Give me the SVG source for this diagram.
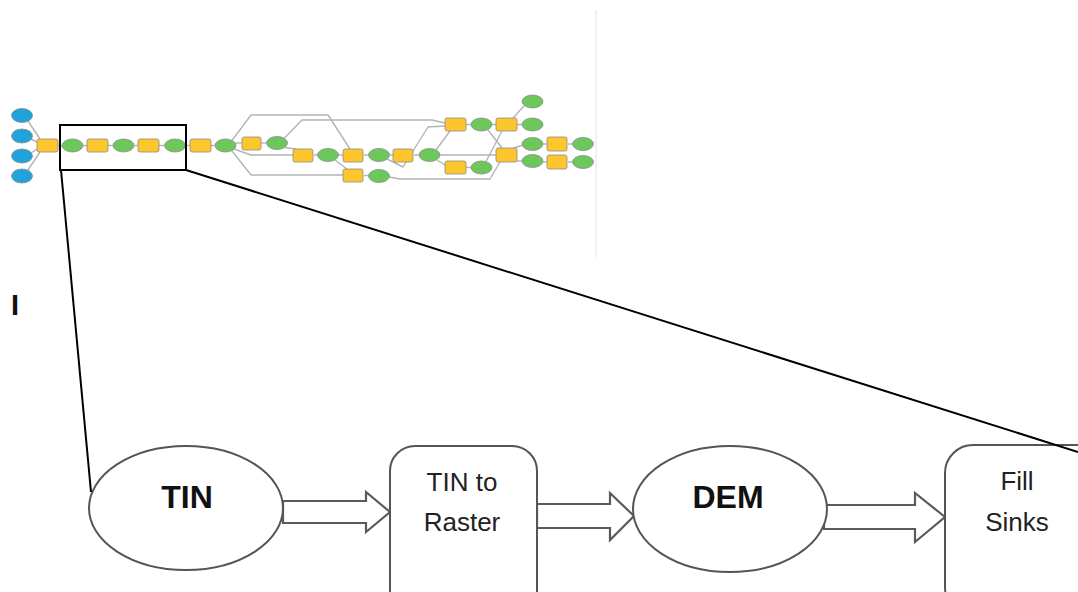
<svg xmlns="http://www.w3.org/2000/svg" width="1078" height="592" viewBox="0 0 1078 592">
  <style>
    .blue { fill: #1fa3da; stroke: #8a8a8a; stroke-width: 0.8; }
    .green { fill: #6cc85a; stroke: #8a8a8a; stroke-width: 0.8; }
    .yellow { fill: #fdc62c; stroke: #8a8a8a; stroke-width: 0.8; }
    .wire { fill: none; stroke: #b4b4b4; stroke-width: 1.4; stroke-linejoin: round; }
    .zoomline { fill: none; stroke: #000; stroke-width: 2; }
    .bignode { fill: #fff; stroke: #555; stroke-width: 2; }
    .blockarrow { fill: #fff; stroke: #5a5a5a; stroke-width: 2.2; stroke-linejoin: miter; }
    .title { font-family: "Liberation Sans", Arial, sans-serif; font-weight: bold; font-size: 32px; fill: #111; text-anchor: middle; }
    .label { font-family: "Liberation Sans", Arial, sans-serif; font-size: 26px; fill: #222; text-anchor: middle; }
  </style>

  <rect width="1078" height="592" fill="#fff"/>

  <!-- thin frame edge of the model panel -->
  <line x1="596" y1="10" x2="596" y2="257" stroke="#e2e2e2" stroke-width="1"/>

  <!-- model overview: connectors -->
  <g id="model-connectors">
    <polyline class="wire" points="28,121 40,139"/>
    <polyline class="wire" points="31,139 37,142"/>
    <polyline class="wire" points="31,153 37,149"/>
    <polyline class="wire" points="28,170 40,152"/>
    <polyline class="wire" points="58,145.5 62,145.5"/>
    <polyline class="wire" points="83,145.5 87,145.5"/>
    <polyline class="wire" points="108,145.5 113,145.5"/>
    <polyline class="wire" points="134,145.5 138,145.5"/>
    <polyline class="wire" points="159,145.5 164.5,145.5"/>
    <polyline class="wire" points="185.5,145.5 190,145.5"/>
    <polyline class="wire" points="211,145.5 215,145.5"/>
    <polyline class="wire" points="235,143 242,143"/>
    <polyline class="wire" points="232,140.5 251,115 328,115 350,149"/>
    <polyline class="wire" points="234,149 251,155 293,155"/>
    <polyline class="wire" points="232,151 251,175 343,175"/>
    <polyline class="wire" points="261,143 266.5,143"/>
    <polyline class="wire" points="285,147.5 296,149"/>
    <polyline class="wire" points="284,138.5 302,120 432,120 445,123"/>
    <polyline class="wire" points="314,155 317.5,155"/>
    <polyline class="wire" points="338.5,155 343,155"/>
    <polyline class="wire" points="335,160 347,169"/>
    <polyline class="wire" points="364,155 368.5,155"/>
    <polyline class="wire" points="389.5,155 393,155"/>
    <polyline class="wire" points="387,159 403,167 428,127 445,126"/>
    <polyline class="wire" points="364,175.5 368.5,175.5"/>
    <polyline class="wire" points="389,177 400,179 490,179 500,162"/>
    <polyline class="wire" points="414,155 419,155"/>
    <polyline class="wire" points="436,150 450,131"/>
    <polyline class="wire" points="440,155 496,155"/>
    <polyline class="wire" points="437,160 445,165"/>
    <polyline class="wire" points="466,124.5 471,124.5"/>
    <polyline class="wire" points="492,124.5 496,124.5"/>
    <polyline class="wire" points="488,130 502,148"/>
    <polyline class="wire" points="513,118 524,106"/>
    <polyline class="wire" points="517,124.5 522,124.5"/>
    <polyline class="wire" points="466,167.5 471,167.5"/>
    <polyline class="wire" points="486,161.5 502,131"/>
    <polyline class="wire" points="514,148 523,145"/>
    <polyline class="wire" points="514,161 523,161"/>
    <polyline class="wire" points="543,144 547,144"/>
    <polyline class="wire" points="568,144 572.5,144"/>
    <polyline class="wire" points="543,162 547,162"/>
    <polyline class="wire" points="568,162 572.5,162"/>
  </g>

  <!-- model overview: inputs -->
  <g id="model-inputs">
    <ellipse class="blue" cx="22" cy="115.5" rx="10.5" ry="7"/>
    <ellipse class="blue" cx="22" cy="136" rx="10.5" ry="7"/>
    <ellipse class="blue" cx="22" cy="156" rx="10.5" ry="7"/>
    <ellipse class="blue" cx="22" cy="176" rx="10.5" ry="7"/>
  </g>

  <!-- model overview: tools -->
  <g id="model-tools">
    <rect class="yellow" x="37" y="139" width="21" height="13" rx="2"/>
    <rect class="yellow" x="87" y="139" width="21" height="13" rx="2"/>
    <rect class="yellow" x="138" y="139" width="21" height="13" rx="2"/>
    <rect class="yellow" x="190" y="139" width="21" height="13" rx="2"/>
    <rect class="yellow" x="242" y="137" width="19" height="13" rx="2"/>
    <rect class="yellow" x="293" y="149" width="20" height="13" rx="2"/>
    <rect class="yellow" x="343" y="149" width="20" height="13" rx="2"/>
    <rect class="yellow" x="343" y="169" width="20" height="13" rx="2"/>
    <rect class="yellow" x="393" y="149" width="20" height="13" rx="2"/>
    <rect class="yellow" x="445" y="118" width="21" height="13" rx="2"/>
    <rect class="yellow" x="496" y="118" width="21" height="13" rx="2"/>
    <rect class="yellow" x="445" y="161" width="21" height="13" rx="2"/>
    <rect class="yellow" x="496" y="148" width="21" height="14" rx="2"/>
    <rect class="yellow" x="547" y="137" width="20" height="14" rx="2"/>
    <rect class="yellow" x="547" y="155" width="20" height="14" rx="2"/>
  </g>

  <!-- model overview: outputs -->
  <g id="model-outputs">
    <ellipse class="green" cx="72.5" cy="145.5" rx="10.5" ry="6.5"/>
    <ellipse class="green" cx="123.5" cy="145.5" rx="10.5" ry="6.5"/>
    <ellipse class="green" cx="175" cy="145.5" rx="10.5" ry="6.5"/>
    <ellipse class="green" cx="225.5" cy="145.5" rx="10.5" ry="6.5"/>
    <ellipse class="green" cx="277" cy="143" rx="10.5" ry="6.5"/>
    <ellipse class="green" cx="328" cy="155" rx="10.5" ry="6.5"/>
    <ellipse class="green" cx="379" cy="155" rx="10.5" ry="6.5"/>
    <ellipse class="green" cx="379" cy="176" rx="10.5" ry="6.5"/>
    <ellipse class="green" cx="429.5" cy="155" rx="10.5" ry="6.5"/>
    <ellipse class="green" cx="481.5" cy="124.5" rx="10.5" ry="6.5"/>
    <ellipse class="green" cx="532.5" cy="101.5" rx="10.5" ry="6.5"/>
    <ellipse class="green" cx="532.5" cy="124.5" rx="10.5" ry="6.5"/>
    <ellipse class="green" cx="481.5" cy="167.5" rx="10.5" ry="6.5"/>
    <ellipse class="green" cx="532.5" cy="144" rx="10.5" ry="6.5"/>
    <ellipse class="green" cx="532.5" cy="161" rx="10.5" ry="6.5"/>
    <ellipse class="green" cx="583" cy="144" rx="10.5" ry="6.5"/>
    <ellipse class="green" cx="583" cy="162" rx="10.5" ry="6.5"/>
  </g>

  <text x="11" y="315" font-family="Liberation Sans, Arial, sans-serif" font-weight="bold" font-size="29" fill="#111">I</text>

  <!-- enlarged workflow: block arrows -->
  <g id="connectors">
    <polygon class="blockarrow" points="283,501 366,501 366,492 390,512 366,532 366,523 283,523"/>
    <polygon class="blockarrow" points="537,504 610,504 610,493 634,516 610,540 610,528 537,528"/>
    <polygon class="blockarrow" points="824,505 915,505 915,493 945,517 915,542 915,529 824,529"/>
  </g>

  <g id="node-tin">
    <ellipse class="bignode" cx="186" cy="508" rx="97" ry="62"/>
    <text class="title" x="187" y="508">TIN</text>
  </g>

  <g id="node-tin-to-raster">
    <rect class="bignode" x="390" y="446" width="147" height="170" rx="25"/>
    <text class="label" x="462" y="491">TIN to</text>
    <text class="label" x="462" y="531">Raster</text>
  </g>

  <g id="node-dem">
    <ellipse class="bignode" cx="730" cy="509" rx="97" ry="63"/>
    <text class="title" x="728" y="508">DEM</text>
  </g>

  <g id="node-fill-sinks">
    <rect class="bignode" x="945" y="445" width="160" height="170" rx="28"/>
    <text class="label" x="1017" y="490">Fill</text>
    <text class="label" x="1017" y="531">Sinks</text>
  </g>

  <!-- magnified section outline and guide lines -->
  <g id="zoom-callout">
    <rect class="zoomline" x="60" y="125" width="126" height="45"/>
    <line class="zoomline" x1="61" y1="170" x2="91" y2="492"/>
    <line class="zoomline" x1="186" y1="170" x2="1078" y2="452"/>
  </g>
</svg>
